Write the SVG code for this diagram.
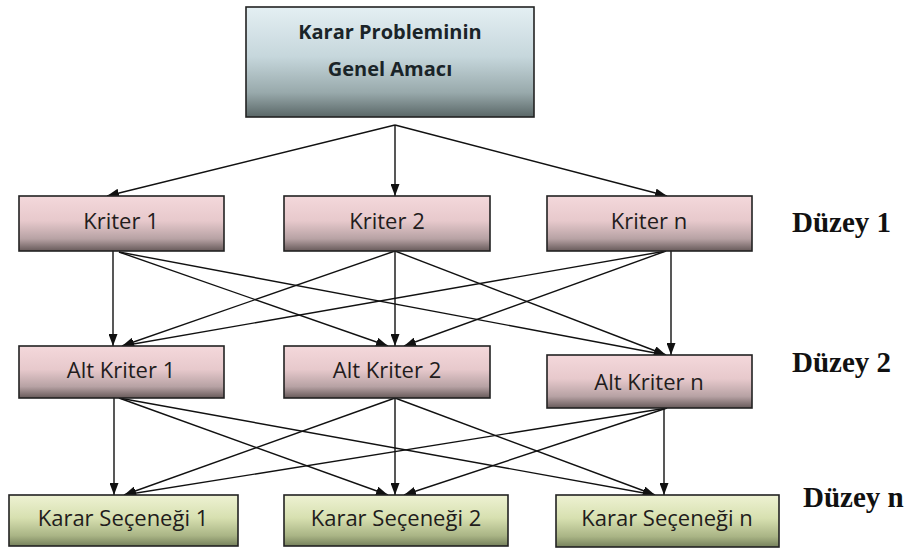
<svg xmlns="http://www.w3.org/2000/svg" width="909" height="550" viewBox="0 0 909 550">
<style>
.box{stroke:#222;stroke-width:1.6}
.t{font-family:"Open Sans","Liberation Sans",sans-serif;font-size:22px;fill:#221c1c;text-anchor:middle}
.tb{font-family:"Open Sans","Liberation Sans",sans-serif;font-size:20px;font-weight:bold;fill:#1a2428;text-anchor:middle}
.lv{font-family:"Liberation Serif","Times New Roman",serif;font-size:29px;font-weight:bold;fill:#111}
.c line{stroke:#111;stroke-width:1.4;marker-end:url(#ah)}
</style>
<defs>
<linearGradient id="gTop" x1="0" y1="0" x2="0" y2="1">
<stop offset="0" stop-color="#e4eff3"/><stop offset="0.45" stop-color="#c6d7dc"/><stop offset="0.78" stop-color="#98a9ab"/><stop offset="1" stop-color="#5a6767"/>
</linearGradient>
<linearGradient id="gPink" x1="0" y1="0" x2="0" y2="1">
<stop offset="0" stop-color="#f4d8db"/><stop offset="0.45" stop-color="#e7c9cc"/><stop offset="0.78" stop-color="#b7a2a4"/><stop offset="1" stop-color="#675a5a"/>
</linearGradient>
<linearGradient id="gGreen" x1="0" y1="0" x2="0" y2="1">
<stop offset="0" stop-color="#eef2d3"/><stop offset="0.45" stop-color="#d7e0b0"/><stop offset="0.8" stop-color="#a9b485"/><stop offset="1" stop-color="#76815c"/>
</linearGradient>
<marker id="ah" markerUnits="userSpaceOnUse" markerWidth="12" markerHeight="9" refX="12" refY="4.5" orient="auto">
<path d="M0,0 L12,4.5 L0,9 z" fill="#111"/>
</marker>
</defs>

<g id="connectors" class="c">
<line x1="395" y1="125" x2="107" y2="196"/>
<line x1="395" y1="125" x2="395" y2="196"/>
<line x1="395" y1="125" x2="667" y2="196"/>

<line x1="113" y1="251" x2="113" y2="346"/>
<line x1="119" y1="252" x2="388" y2="346"/>
<line x1="119" y1="252" x2="666" y2="355"/>
<line x1="395" y1="251" x2="122" y2="346"/>
<line x1="395" y1="251" x2="395" y2="346"/>
<line x1="395" y1="251" x2="666" y2="355"/>
<line x1="666" y1="251" x2="122" y2="346"/>
<line x1="666" y1="251" x2="404" y2="346"/>
<line x1="671" y1="251" x2="671" y2="355"/>

<line x1="114" y1="398" x2="114" y2="495"/>
<line x1="119" y1="398" x2="388" y2="495"/>
<line x1="119" y1="398" x2="655" y2="495"/>
<line x1="395" y1="398" x2="124" y2="495"/>
<line x1="395" y1="398" x2="395" y2="495"/>
<line x1="395" y1="398" x2="655" y2="495"/>
<line x1="667" y1="408" x2="124" y2="495"/>
<line x1="667" y1="408" x2="404" y2="495"/>
<line x1="664" y1="408" x2="664" y2="495"/>
</g>

<g id="goal">
<rect class="box" x="246" y="7" width="288" height="110" fill="url(#gTop)"/>
<text class="tb" x="390" y="39">Karar Probleminin</text>
<text class="tb" x="390" y="76">Genel Amacı</text>
</g>

<g id="kriter1"><rect class="box" x="19" y="196" width="205" height="55" fill="url(#gPink)"/><text class="t" x="121" y="229">Kriter 1</text></g>
<g id="kriter2"><rect class="box" x="284" y="196" width="206" height="55" fill="url(#gPink)"/><text class="t" x="387" y="229">Kriter 2</text></g>
<g id="kritern"><rect class="box" x="547" y="196" width="205" height="55" fill="url(#gPink)"/><text class="t" x="649" y="229">Kriter n</text></g>

<g id="altkriter1"><rect class="box" x="19" y="346" width="205" height="52" fill="url(#gPink)"/><text class="t" x="121" y="378">Alt Kriter 1</text></g>
<g id="altkriter2"><rect class="box" x="284" y="346" width="206" height="52" fill="url(#gPink)"/><text class="t" x="387" y="378">Alt Kriter 2</text></g>
<g id="altkritern"><rect class="box" x="547" y="355" width="205" height="53" fill="url(#gPink)"/><text class="t" x="649" y="390">Alt Kriter n</text></g>

<g id="secenek1"><rect class="box" x="9" y="495" width="229" height="51" fill="url(#gGreen)"/><text class="t" x="123" y="526">Karar Seçeneği 1</text></g>
<g id="secenek2"><rect class="box" x="284" y="495" width="224" height="51" fill="url(#gGreen)"/><text class="t" x="396" y="526">Karar Seçeneği 2</text></g>
<g id="seceneknn"><rect class="box" x="556" y="495" width="223" height="52" fill="url(#gGreen)"/><text class="t" x="667" y="526">Karar Seçeneği n</text></g>

<g id="levels">
<text class="lv" x="792" y="232">Düzey 1</text>
<text class="lv" x="792" y="372">Düzey 2</text>
<text class="lv" x="803" y="507">Düzey n</text>
</g>
</svg>
